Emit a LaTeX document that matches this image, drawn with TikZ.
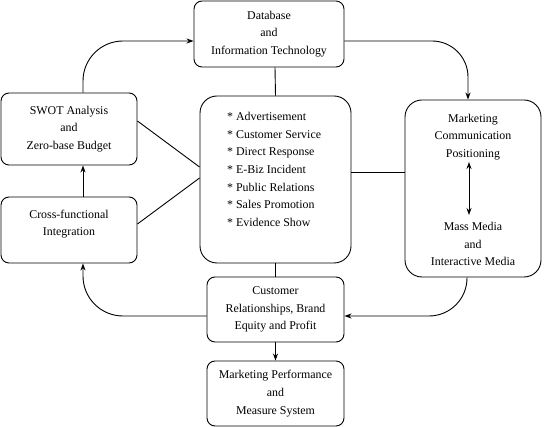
\documentclass[tikz,border=0pt]{standalone}
\usepackage{fontspec}
\setmainfont{Liberation Serif}
\usetikzlibrary{arrows.meta,calc}
\begin{document}
\begin{tikzpicture}[x=1pt,y=-1pt,
  box/.style={draw,line width=0.9pt,rounded corners=8pt,inner sep=0pt,align=center},
  bigbox/.style={draw,line width=0.9pt,rounded corners=17pt,inner sep=0pt},
  txt/.style={inner sep=0pt,align=center},
  conn/.style={line width=0.9pt},
  arr/.style={line width=0.9pt,-{Stealth[length=7pt,width=5pt]}},
  font=\fontsize{11.9}{17.6}\selectfont]
\useasboundingbox (0,0) rectangle (544,427);
% boxes
\node[box,minimum width=150,minimum height=66] (db) at (269,34) {Database\\and\\Information Technology};
\node[box,minimum width=136,minimum height=72] (swot) at (69,129) {SWOT Analysis\\and\\Zero-base Budget};
\node[box,minimum width=136,minimum height=66,
  label={[txt,yshift=6pt]center:Cross-functional\\Integration}] (cross) at (69,230) {};
\node[bigbox,minimum width=151,minimum height=167] (ctr) at (275.5,179.5) {};
\node[txt,align=left,anchor=west] (ctrtxt) at (227,169.5)
  {* Advertisement\\* Customer Service\\* Direct Response\\* E-Biz Incident\\* Public Relations\\* Sales Promotion\\* Evidence Show};
\node[bigbox,minimum width=136,minimum height=177] (mc) at (473,188.5) {};
\node[txt] (mctop) at (473,137) {Marketing\\Communication\\Positioning};
\node[txt] (mcbot) at (473,244) {Mass Media\\and\\Interactive Media};
\node[box,minimum width=137,minimum height=65] (cust) at (275.5,309.5) {Customer\\Relationships, Brand\\Equity and Profit};
\node[box,minimum width=137,minimum height=65] (perf) at (275.5,393.5) {Marketing Performance\\and\\Measure System};
% inner double arrow
\coordinate (dtop) at (469,162);
\coordinate (dbot) at (469,215);
\draw[line width=0.9pt,{Stealth[length=7pt,width=5pt]}-{Stealth[length=7pt,width=5pt]}] (dtop) -- (dbot);
% connectors
\draw[arr,rounded corners=40pt] ($(swot.north)+(14,0)$) |- ($(db.west)+(0,7)$);
\draw[arr,rounded corners=36pt] ($(db.east)+(0,7)$) -| ($(mc.north)+(-5,0)$);
\draw[conn] ($(db.south)+(6,0)$) -- (ctr.north);
\draw[conn] ($(swot.east)+(0,-8)$) -- ($(ctr.west)+(0,-12.5)$);
\draw[conn] ($(cross.east)+(0,-6)$) -- ($(ctr.west)+(0,-1.5)$);
\draw[conn] ($(ctr.east)+(0,-7.5)$) -- ($(mc.west)+(0,-16.5)$);
\draw[arr] ($(cross.north)+(14,0)$) -- ($(swot.south)+(14,0)$);
\draw[conn] (ctr.south) -- (cust.north);
\draw[arr] (cust.south) -- (perf.north);
\draw[arr,rounded corners=40pt] ($(cust.west)+(0,6.5)$) -| ($(cross.south)+(14,0)$);
\draw[arr,rounded corners=38pt] ($(mc.south)+(-6,0)$) |- ($(cust.east)+(0,6.5)$);
\end{tikzpicture}
\end{document}
